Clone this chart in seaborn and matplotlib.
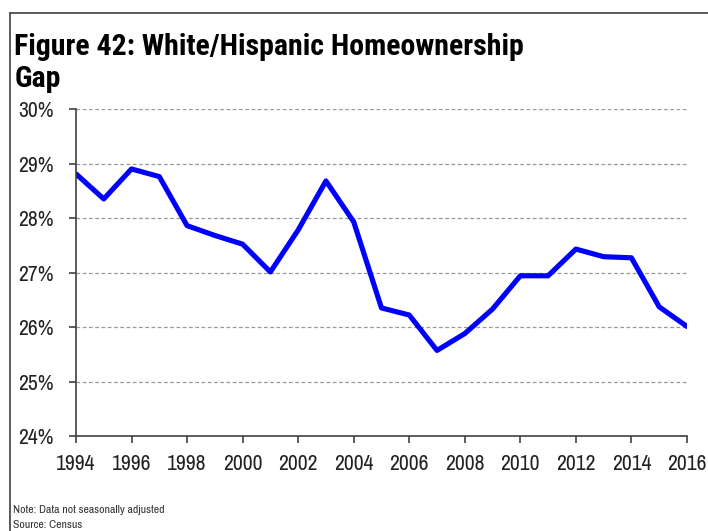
import matplotlib
matplotlib.use("Agg")
import matplotlib.pyplot as plt
import matplotlib.font_manager as fm
import seaborn as sns
import pandas as pd
from matplotlib.lines import Line2D
from matplotlib.ticker import FuncFormatter

years = list(range(1994, 2017))
gap = [28.81, 28.35, 28.90, 28.76, 27.86, 27.68, 27.52, 27.01, 27.78, 28.68,
       27.93, 26.35, 26.22, 25.57, 25.88, 26.33, 26.94, 26.94, 27.43, 27.29,
       27.27, 26.37, 26.01]
y_ticks = [24, 25, 26, 27, 28, 29, 30]
x_ticks = list(range(1994, 2017, 2))
title_1 = "Figure 42: White/Hispanic Homeownership"
title_2 = "Gap"
note = "Note: Data not seasonally adjusted"
source = "Source: Census"

sns.set_theme(style="white")
names = {f.name for f in fm.fontManager.ttflist}
body = "Archivo Narrow" if "Archivo Narrow" in names else "Liberation Sans"
head = "Roboto Condensed" if "Roboto Condensed" in names else body
plt.rcParams['font.family'] = [body, 'DejaVu Sans']

df = pd.DataFrame({"year": years, "gap": gap})
fig = plt.figure(figsize=(7.08, 5.31), dpi=100)
ax = fig.add_axes([0.1073, 0.1789, 0.8630, 0.6158])
sns.lineplot(data=df, x="year", y="gap", ax=ax, color="#0000FF", linewidth=3.7)

ax.set_xlim(1994, 2016)
ax.set_ylim(24, 30)
ax.set_xticks(x_ticks)
ax.set_yticks(y_ticks)
ax.yaxis.set_major_formatter(FuncFormatter(lambda v, p: f"{int(v)}%"))
ax.set_xlabel("")
ax.set_ylabel("")
for yv in y_ticks[1:]:
    ax.axhline(yv, color="#999999", linestyle=(0, (3, 2)), linewidth=0.9, zorder=0)
for s in ["top", "right"]:
    ax.spines[s].set_visible(False)
for s in ["left", "bottom"]:
    ax.spines[s].set_color("#404040")
    ax.spines[s].set_linewidth(1.2)
ax.tick_params(axis="both", which="major", direction="out", length=5, width=1.2,
               color="#404040", labelsize=15.5, labelcolor="#222222",
               bottom=True, left=True)
ax.tick_params(axis="x", pad=8)
ax.tick_params(axis="y", pad=11)

fig.text(0.020, 0.896, title_1, fontsize=21.5, fontweight="bold", family=head,
         color="black", va="baseline")
fig.text(0.020, 0.836, title_2, fontsize=21.5, fontweight="bold", family=head,
         color="black", va="baseline")
fig.text(0.018, 0.034, note, fontsize=8.5, color="#333333", va="baseline")
fig.text(0.018, 0.006, source, fontsize=8.5, color="#333333", va="baseline")

fig.add_artist(Line2D([0.0141, 0.0141], [0.0, 0.9755], color="#404040",
                      linewidth=1.2, transform=fig.transFigure))
fig.add_artist(Line2D([0.0141, 1.0], [0.9755, 0.9755], color="#404040",
                      linewidth=1.2, transform=fig.transFigure))

fig.savefig("out.png", dpi=100)
